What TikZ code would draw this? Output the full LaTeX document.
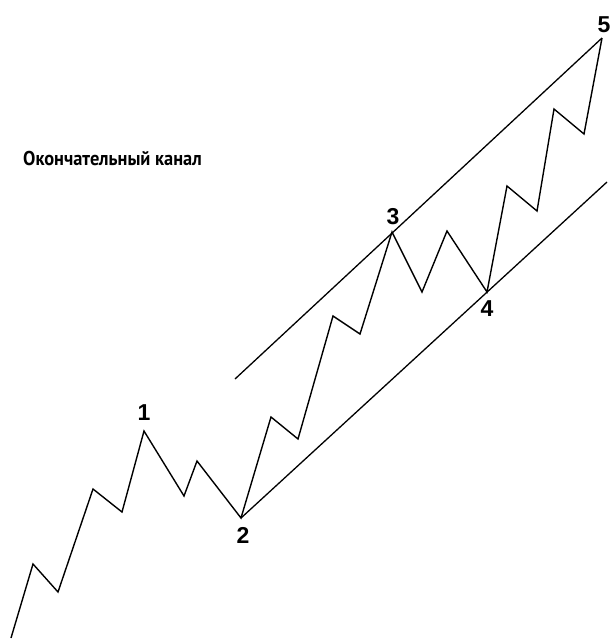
\documentclass[tikz,border=0pt]{standalone}
\usepackage{fontspec}
\setmainfont{Liberation Sans}
\newfontfamily\narrowfont[FakeStretch=0.92]{PT Sans}
\usepackage{tikz}
\usetikzlibrary{positioning}
\tikzset{
  waveline/.style={line width=1.4pt, draw=black, line join=miter},
  channelline/.style={line width=1.3pt, draw=black},
  wavelabel/.style={inner sep=0pt, font=\fontsize{23}{23}\selectfont\bfseries},
  titlelabel/.style={inner sep=0pt, anchor=base west, font=\narrowfont\fontsize{20}{20}\selectfont\bfseries}
}
\begin{document}
\begin{tikzpicture}[x=1pt, y=-1pt]
  \useasboundingbox (0,0) rectangle (610,640);
  % wave vertices
  \coordinate (s0) at (11,638);
  \coordinate (a1) at (33,564);
  \coordinate (a2) at (58,592);
  \coordinate (a3) at (93,489);
  \coordinate (a4) at (122,512);
  \coordinate (w1) at (144,431);
  \coordinate (b1) at (184,496);
  \coordinate (b2) at (197,461);
  \coordinate (w2) at (241,518);
  \coordinate (c1) at (271,417);
  \coordinate (c2) at (298,439);
  \coordinate (c3) at (333,316);
  \coordinate (c4) at (360,334);
  \coordinate (w3) at (392,232);
  \coordinate (d1) at (422,292);
  \coordinate (d2) at (447,231);
  \coordinate (w4) at (487,292);
  \coordinate (e1) at (507,186);
  \coordinate (e2) at (537,211);
  \coordinate (e3) at (554,109);
  \coordinate (e4) at (584,134);
  \coordinate (w5) at (602,38);
  % channel ends
  \coordinate (upstart) at (235,379);
  \coordinate (lowend) at (607,182);
  \draw[waveline] (s0) -- (a1) -- (a2) -- (a3) -- (a4) -- (w1) -- (b1) -- (b2) -- (w2)
    -- (c1) -- (c2) -- (c3) -- (c4) -- (w3) -- (d1) -- (d2) -- (w4)
    -- (e1) -- (e2) -- (e3) -- (e4) -- (w5);
  \draw[channelline] (upstart) -- (w5);
  \draw[channelline] (w2) -- (lowend);
  \node[wavelabel, above=10pt of w1] (lab1) {1};
  \node[wavelabel, below=9pt of w2, xshift=2pt] (lab2) {2};
  \node[wavelabel, above=7pt of w3, xshift=1pt] (lab3) {3};
  \node[wavelabel, below=8pt of w4] (lab4) {4};
  \node[wavelabel, above=5pt of w5, xshift=2pt] (lab5) {5};
  \node[titlelabel] (title) at (23,165) {Окончательный канал};
\end{tikzpicture}
\end{document}
